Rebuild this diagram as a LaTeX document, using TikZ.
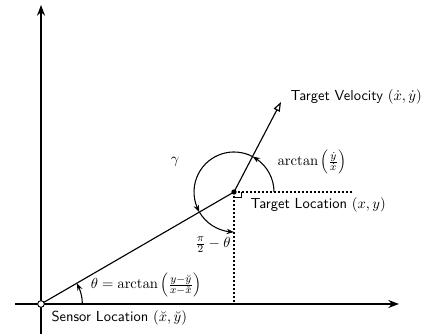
\documentclass[tikz,border=0pt]{standalone}
\usetikzlibrary{arrows.meta,bending}
\begin{document}
\begin{tikzpicture}[x=0.75pt,y=0.75pt,
  every node/.style={font=\fontsize{10.9}{13}\selectfont},
  axis/.style={line width=1.2pt,-{Stealth[length=8pt,width=6pt]}},
  ln/.style={line width=0.85pt},
  dots/.style={line width=0.8pt,dash pattern=on 1.3pt off 1.7pt},
  angarc/.style={line width=0.8pt,-{Stealth[length=5.5pt,width=4pt,bend]}},
  lbl/.style={font=\fontsize{10.9}{13}\selectfont\sffamily, inner sep=1pt}]
\useasboundingbox (0,0) rectangle (429,334);
% points
\coordinate (O) at (41,30);
\coordinate (T) at (234,142);
\coordinate (V) at (281,232);
\coordinate (xl) at (15,30);
\coordinate (xr) at (399,30);
\coordinate (yb) at (41,0);
\coordinate (yt) at (41,329);
\coordinate (H) at (352,142);
\coordinate (F) at (234,30);
% axes
\draw[axis] (xl) -- (xr);
\draw[axis] (yb) -- (yt);
% dotted guides
\draw[dots] (T) -- (H);
\draw[dots] (T) -- (F);
% right angle mark
\draw[line width=0.6pt] ([xshift=5.5pt]T) -- ++(0,-4pt) -- ++(-5.5pt,0);
% lines
\draw[ln] (O) -- (T);
\draw[ln,-{Triangle[open,length=7pt,width=5pt]}] (T) -- (V);
% arcs at target
\draw[angarc] ([shift={(0:30pt)}]T) arc[start angle=0,end angle=62.4,radius=30pt];
\draw[angarc] ([shift={(62.4:30pt)}]T) arc[start angle=62.4,end angle=210.1,radius=30pt];
\draw[angarc] ([shift={(210.1:30pt)}]T) arc[start angle=210.1,end angle=270,radius=30pt];
% theta arc at sensor
\draw[angarc] ([shift={(0:31pt)}]O) arc[start angle=0,end angle=30.1,radius=31pt];
% points
\node[circle,fill=black,inner sep=0pt,minimum size=4pt] (tgt) at (T) {};
\node[circle,draw=black,fill=white,line width=0.7pt,inner sep=0pt,minimum size=5pt] (sen) at (O) {};
% labels
\node[lbl,anchor=west] (lv) at (289,237) {Target Velocity $(\dot x,\dot y)$};
\node[inner sep=1pt] (lg) at (175,172) {$\gamma$};
\node[inner sep=1pt,anchor=west] (la) at (276,172) {$\arctan\left(\frac{\dot y}{\dot x}\right)$};
\node[lbl,anchor=west] (lt) at (249,129) {Target Location $(x,y)$};
\node[inner sep=1pt] (lp) at (213,89) {$\frac{\pi}{2}-\theta$};
\node[inner sep=1pt] (lth) at (146,49) {$\theta=\arctan\left(\frac{y-\breve y}{x-\breve x}\right)$};
\node[lbl,anchor=west] (ls) at (50,16) {Sensor Location $(\breve x,\breve y)$};
\end{tikzpicture}
\end{document}
